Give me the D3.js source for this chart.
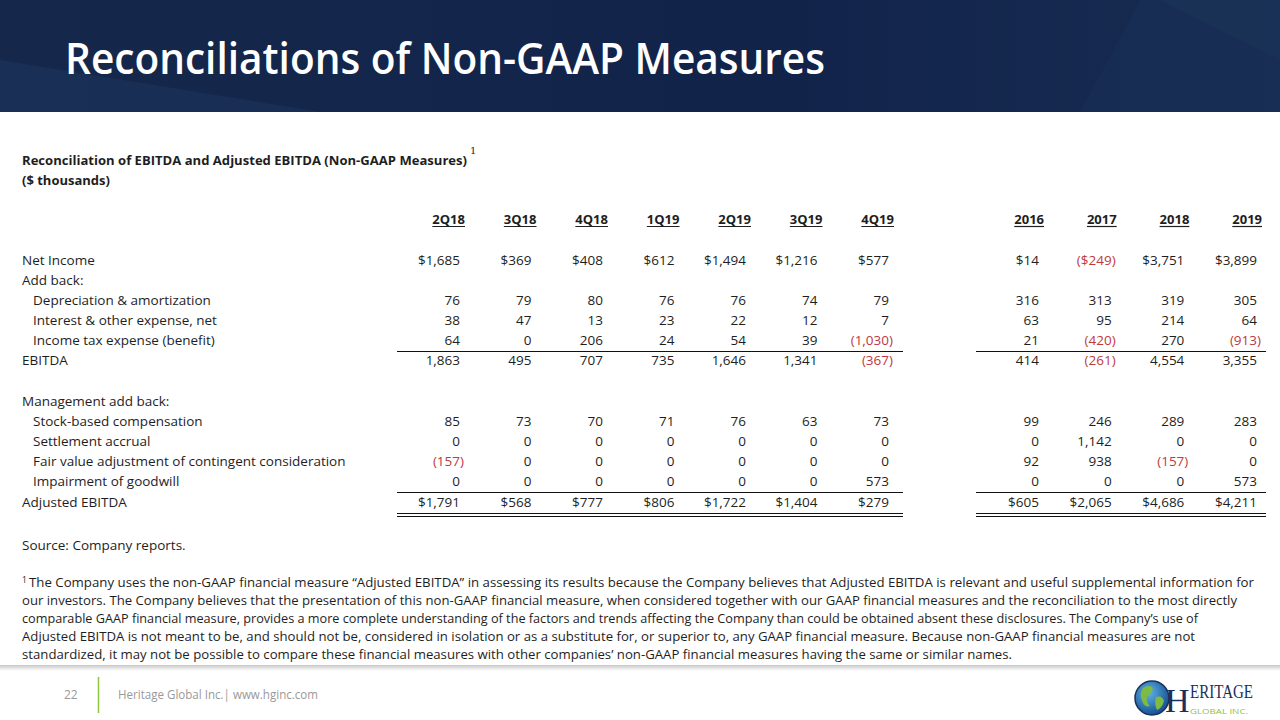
<!DOCTYPE html>
<html><head><meta charset="utf-8">
<script src="https://cdn.jsdelivr.net/npm/d3@7"></script>
<style>
html,body{margin:0;padding:0;background:#fff;}
svg{display:block;}
text{font-family:"Open Sans",sans-serif;}
</style></head>
<body><svg id="c" width="1280" height="720"></svg>
<script>
const quarters = ["2Q18","3Q18","4Q18","1Q19","2Q19","3Q19","4Q19"];
const years = ["2016","2017","2018","2019"];
const rowLabels = ["Net Income","Add back:","Depreciation & amortization","Interest & other expense, net","Income tax expense (benefit)","EBITDA","","Management add back:","Stock-based compensation","Settlement accrual","Fair value adjustment of contingent consideration","Impairment of goodwill","Adjusted EBITDA"];
const rowIndent = [0,0,1,1,1,0,0,0,1,1,1,1,0];
const rowDollar = [1,0,0,0,0,0,0,0,0,0,0,0,1];
const quarterValues = [
  [1685,369,408,612,1494,1216,577],
  null,
  [76,79,80,76,76,74,79],
  [38,47,13,23,22,12,7],
  [64,0,206,24,54,39,-1030],
  [1863,495,707,735,1646,1341,-367],
  null,
  null,
  [85,73,70,71,76,63,73],
  [0,0,0,0,0,0,0],
  [-157,0,0,0,0,0,0],
  [0,0,0,0,0,0,573],
  [1791,568,777,806,1722,1404,279]
];
const yearValues = [
  [14,-249,3751,3899],
  null,
  [316,313,319,305],
  [63,95,214,64],
  [21,-420,270,-913],
  [414,-261,4554,3355],
  null,
  null,
  [99,246,289,283],
  [0,1142,0,0],
  [92,938,-157,0],
  [0,0,0,573],
  [605,2065,4686,4211]
];
const footnoteLines = [
  "The Company uses the non-GAAP financial  measure “Adjusted  EBITDA” in assessing its results because  the Company believes that Adjusted EBITDA is relevant and useful supplemental information for",
  "our investors. The Company believes that the presentation of this non-GAAP financial measure, when considered together with our GAAP financial measures and the reconciliation  to the most directly",
  "comparable  GAAP financial measure, provides a more complete understanding of the factors and trends affecting the Company than could be obtained absent these disclosures. The Company’s use of",
  "Adjusted EBITDA is not meant to be, and should not be, considered in isolation or as a substitute for, or superior to, any GAAP financial measure. Because non-GAAP financial measures are not",
  "standardized, it may not be possible to compare these financial measures with other companies’ non-GAAP financial measures having the same or similar names."
];
const footnoteEnds = [1254,1237,1198,1195,1012];

const svg = d3.select("#c");
const defs = svg.append("defs");
const hg = defs.append("linearGradient").attr("id","hdr").attr("x1","0").attr("y1","0").attr("x2","1").attr("y2","0");
hg.append("stop").attr("offset","0").attr("stop-color","#15284b");
hg.append("stop").attr("offset","0.6").attr("stop-color","#12234a");
hg.append("stop").attr("offset","1").attr("stop-color","#172c52");

// header
svg.append("rect").attr("x",0).attr("y",0).attr("width",1280).attr("height",112).attr("fill","url(#hdr)");
svg.append("path").attr("d","M0,60 L320,112 L0,112 Z").attr("fill","#1a3157").attr("opacity",0.8);
svg.append("path").attr("d","M1080,112 L1140,0 L1280,0 L1280,112 Z").attr("fill","#1a3056").attr("opacity",0.5);
svg.append("path").attr("d","M1160,0 L1280,60 L1280,0 Z").attr("fill","#1e365d").attr("opacity",0.4);
svg.append("text").attr("x",65).attr("y",74).attr("fill","#fff")
  .style("font-size","43px").style("font-weight",600)
  .attr("textLength",760).attr("lengthAdjust","spacingAndGlyphs")
  .text("Reconciliations of Non-GAAP Measures");

// table title
const ink = "#1e1e1e", red = "#c0393b";
const FS = "13.5px";
svg.append("text").attr("x",22).attr("y",165).attr("fill",ink)
  .style("font-size","13px").style("font-weight",700)
  .attr("textLength",445).attr("lengthAdjust","spacingAndGlyphs")
  .text("Reconciliation of EBITDA and Adjusted EBITDA (Non-GAAP Measures)");
svg.append("text").attr("x",470).attr("y",154).attr("fill",ink)
  .style("font-size","10px").style("font-family","'DejaVu Serif',serif").text("1");
svg.append("text").attr("x",22).attr("y",185).attr("fill",ink)
  .style("font-size","13px").style("font-weight",700).text("($ thousands)");

// scales
const xq = d3.scalePoint().domain(quarters).range([460,889]);
const xy = d3.scalePoint().domain(years).range([1039,1257]);
const y = d3.scalePoint().domain(d3.range(rowLabels.length)).range([264.5,506.5]);

const fmtN = d3.format(",");
function fmt(v, dollar){
  const s = (dollar?"$":"") + fmtN(Math.abs(v));
  return v < 0 ? "(" + s + ")" : s;
}

// column headers
function headers(list, scale){
  list.forEach(h=>{
    const t = svg.append("text").attr("x",scale(h)+5).attr("y",224).attr("text-anchor","end")
      .attr("fill",ink).style("font-size","13px").style("font-weight",700).text(h);
    const w = t.node().getComputedTextLength();
    svg.append("line").attr("x1",scale(h)+5-w).attr("x2",scale(h)+5).attr("y1",226.5).attr("y2",226.5)
      .attr("stroke",ink).attr("stroke-width",1.2);
  });
}
headers(quarters, xq);
headers(years, xy);

// row labels
rowLabels.forEach((lab,i)=>{
  if(!lab) return;
  svg.append("text").attr("x",rowIndent[i]?33:22).attr("y",y(i)).attr("fill",ink)
    .style("font-size",FS).text(lab);
});

// values
function values(data, list, scale){
  data.forEach((row,i)=>{
    if(!row) return;
    svg.append("g").selectAll("text").data(row).join("text")
      .attr("x",(d,j)=>scale(list[j]) + (d<0?4:0))
      .attr("y",y(i)).attr("text-anchor","end")
      .attr("fill",d=>d<0?red:ink)
      .style("font-size",FS)
      .text(d=>fmt(d, rowDollar[i]));
  });
}
values(quarterValues, quarters, xq);
values(yearValues, years, xy);

// rules
function rules(x1,x2){
  const ln = (yy)=>svg.append("line").attr("x1",x1).attr("x2",x2).attr("y1",yy).attr("y2",yy).attr("stroke","#111").attr("stroke-width",1);
  ln(351.5); ln(492.5); ln(513.5); ln(516.5);
}
rules(397,903);
rules(976,1266);

// source
svg.append("text").attr("x",22).attr("y",550).attr("fill",ink).style("font-size",FS).text("Source: Company reports.");

// footnote
svg.append("text").attr("x",22).attr("y",583).attr("fill",ink).style("font-size","8.5px").text("1");
footnoteLines.forEach((l,i)=>{
  const x0 = i===0?29:22;
  svg.append("text").attr("x",x0).attr("y",587+i*18).attr("fill",ink)
    .style("font-size","12.5px")
    .attr("textLength",footnoteEnds[i]-x0).attr("lengthAdjust","spacingAndGlyphs")
    .text(l);
});

// footer separator shadow
const sg = defs.append("linearGradient").attr("id","sh").attr("x1","0").attr("y1","0").attr("x2","0").attr("y2","1");
sg.append("stop").attr("offset","0").attr("stop-color","#c8c8c8");
sg.append("stop").attr("offset","1").attr("stop-color","#ffffff");
svg.append("rect").attr("x",0).attr("y",665).attr("width",1280).attr("height",6).attr("fill","url(#sh)");

svg.append("text").attr("x",64).attr("y",699).attr("fill","#999").style("font-size","12px").text("22");
svg.append("line").attr("x1",98.5).attr("x2",98.5).attr("y1",677).attr("y2",713).attr("stroke","#8dc63f").attr("stroke-width",1.5);
svg.append("text").attr("x",118).attr("y",699).attr("fill","#999").style("font-size","12px")
  .attr("textLength",200).attr("lengthAdjust","spacingAndGlyphs").text("Heritage Global Inc.| www.hginc.com");

// logo
const gg = defs.append("radialGradient").attr("id","globe").attr("cx","0.4").attr("cy","0.35").attr("r","0.7");
gg.append("stop").attr("offset","0").attr("stop-color","#5fb4e6");
gg.append("stop").attr("offset","1").attr("stop-color","#114a8c");
svg.append("circle").attr("cx",1152).attr("cy",698).attr("r",17).attr("fill","url(#globe)").attr("stroke","#1b2f5a").attr("stroke-width",1.5);
svg.append("path").attr("d","M1143,688 q6,-4 10,0 q-2,6 -6,8 q-1,6 3,10 q-6,2 -8,-6 q-3,-6 1,-12 Z").attr("fill","#7dbb42");
svg.append("path").attr("d","M1156,697 q6,-2 8,4 q-2,7 -7,9 q-3,-6 -1,-13 Z").attr("fill","#7dbb42");
svg.append("text").attr("x",1165).attr("y",712).attr("fill","#1b2f5a")
  .style("font-family","'Liberation Serif',serif").style("font-size","34px").text("H");
svg.append("text").attr("x",1190).attr("y",698).attr("fill","#1b2f5a")
  .style("font-family","'Liberation Serif',serif").style("font-size","18px")
  .attr("textLength",63).attr("lengthAdjust","spacingAndGlyphs").text("ERITAGE");
svg.append("text").attr("x",1190).attr("y",714).attr("fill","#8cc04a")
  .style("font-size","8px").attr("textLength",58).attr("lengthAdjust","spacingAndGlyphs").text("GLOBAL INC.");
</script></body></html>
